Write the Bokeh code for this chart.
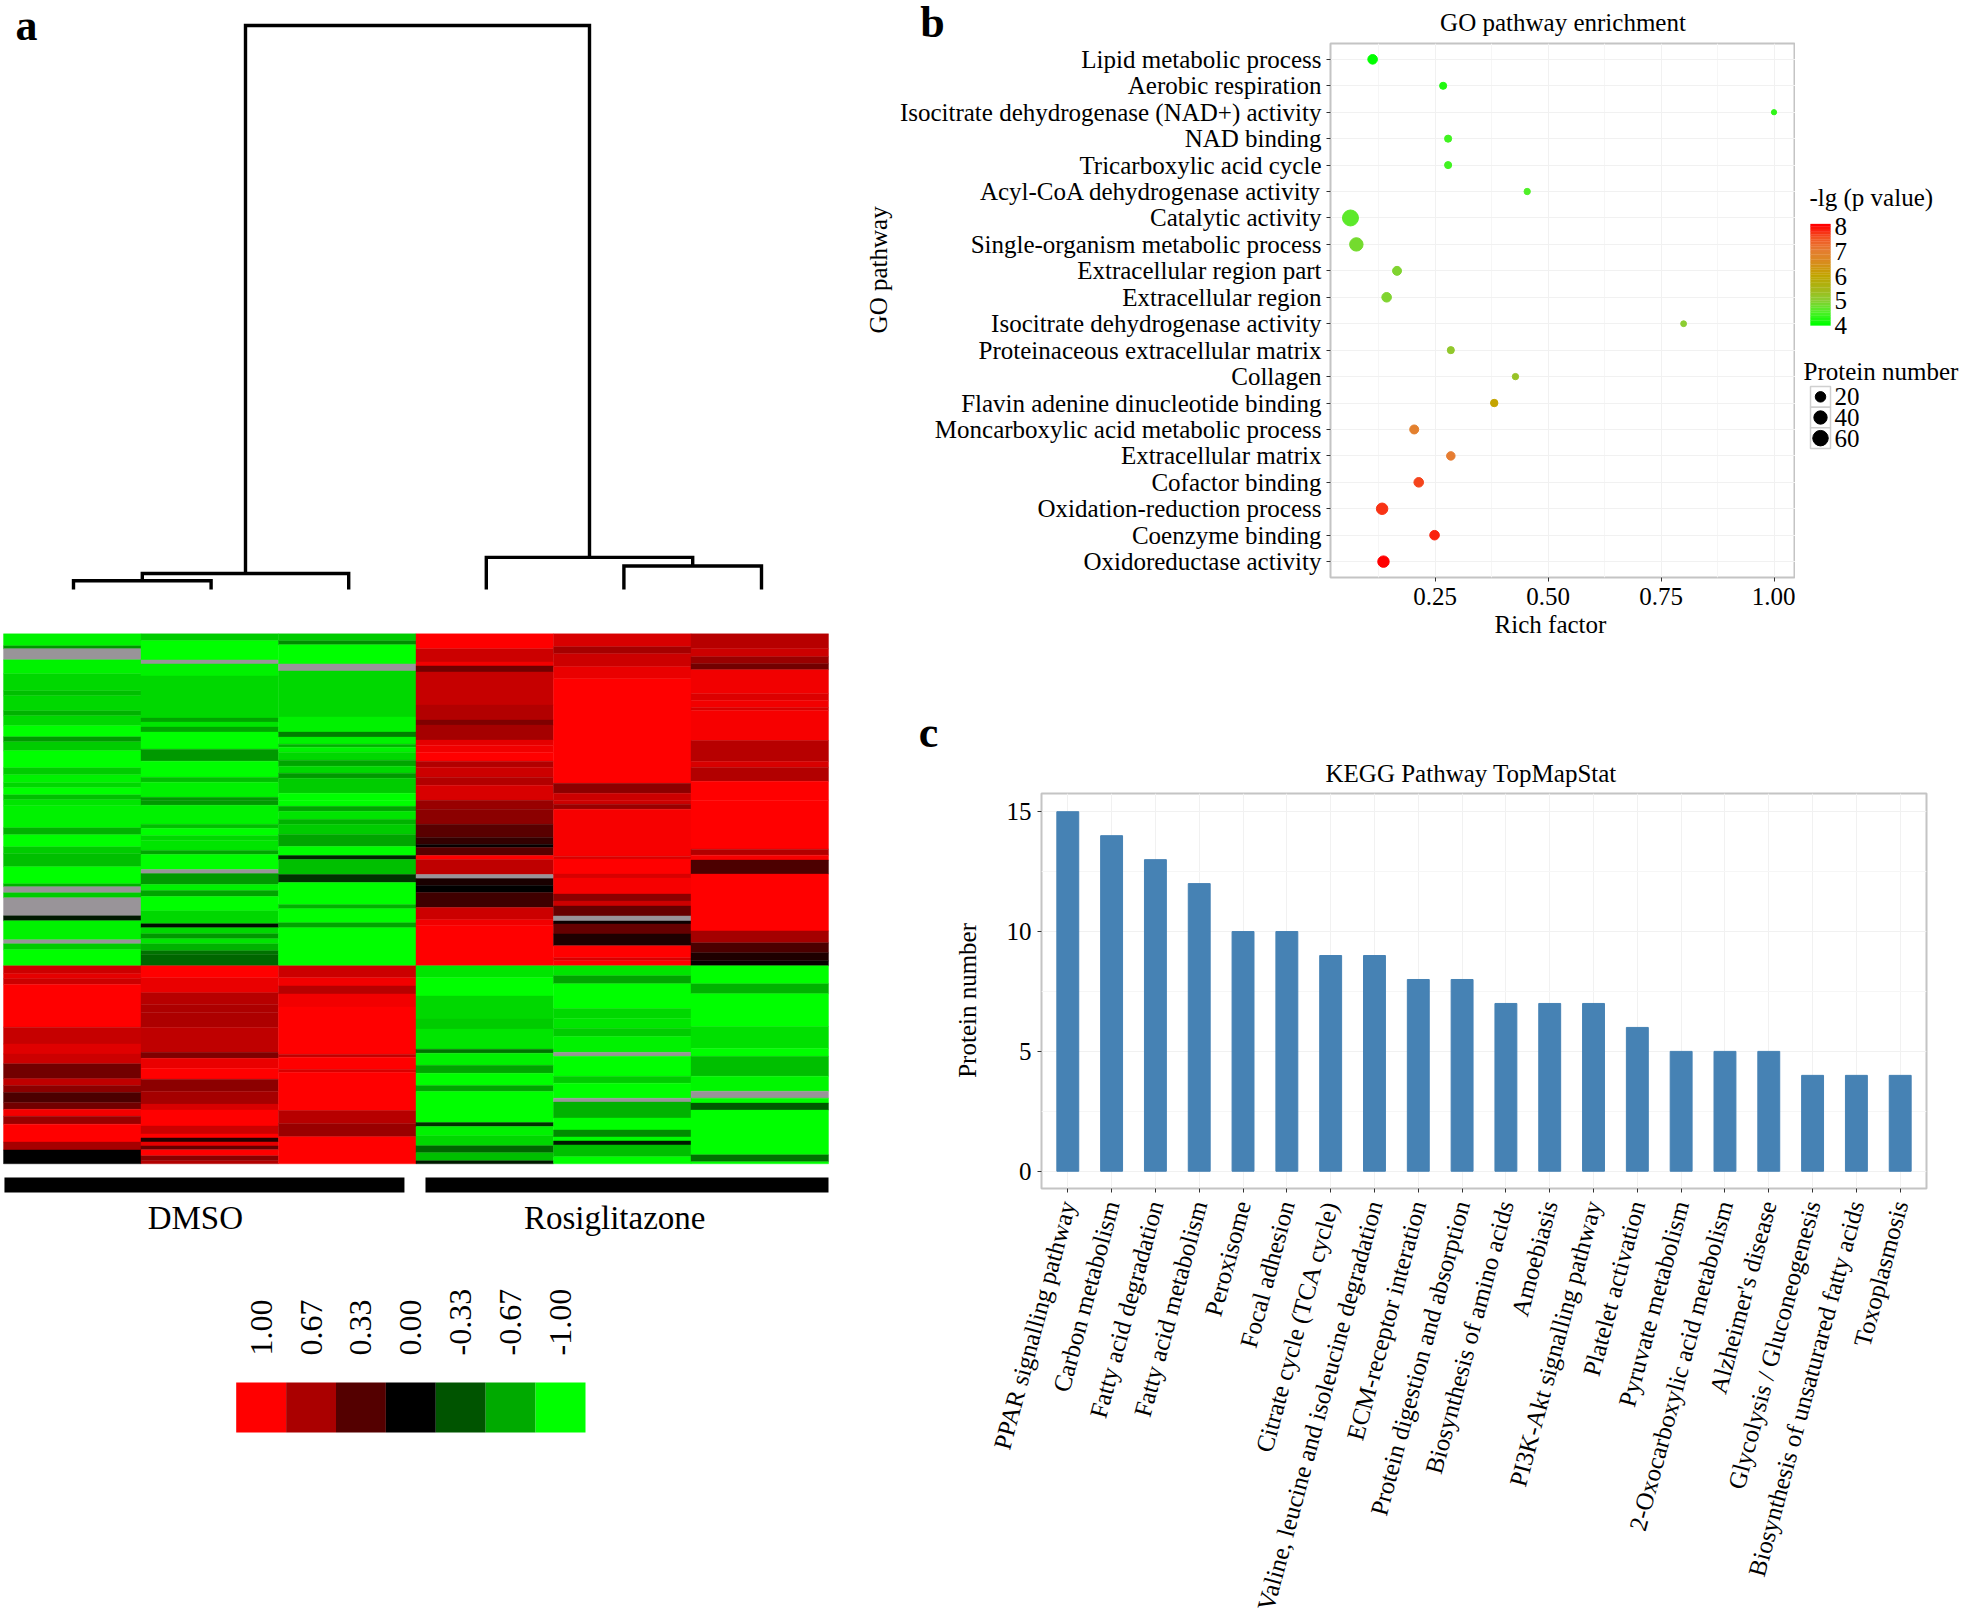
from bokeh.embed import file_html
from bokeh.resources import INLINE
from bokeh.plotting import figure
from bokeh.layouts import row, column
from bokeh.models import (Range1d, FactorRange, FixedTicker, Label, ColumnDataSource, Title)
from bokeh.core.properties import value

SERIF = "Liberation Serif"
NBSP = "\u00a0"

# ---------- panel a: heat map values, (band height, log ratio); None = missing ----------
col1_up = [(12,-.95),(3,-.6),(11,None),(14,-.95),(17,-.85),(5,-.75),(15,-.85),(5,-.7),(10,-.85),(11,-1),(5,-.6),(9,-.8),(17,-1),(7,-.8),(8,-.95),(5,-.85),(7,-1),(5,-.75),
           (6,-.9),(22,-.95),(7,-.7),(12,-1),(7,-.8),(13,-.75),(17,-1),(3,-.7),(6,None),(5,-.8),(18,None),(5,-.1),(19,-.95),(4,None),(6,-.8),(16,-1)]
col2_up = [(7,-.8),(19,-1),(4,None),(12,-.95),(42,-.85),(4,-.65),(5,-.9),(5,-.65),(17,-1),(12,-.6),(16,-1),(5,-.75),(15,-.95),(3,-.6),
           (5,-.6),(19,-.95),(4,-.75),(7,-1),(5,-.85),(10,-.9),(4,-.65),(15,-1),(4,None),(11,-.6),(6,-.95),(6,-.65),(14,-1),(13,-.85),(4,-.05),(6,-.85),(5,-.6),(5,-.9),(7,-.7),(4,-.45),(11,-.4)]
col3_up = [(7,-.8),(4,-.55),(19,-1),(7,None),(46,-.85),(15,-.95),(5,-.5),(7,-.95),(3,-.7),(5,-.95),(8,-.85),(6,-.65),(7,-.85),(5,-.6),(15,-.8),(7,-1),
           (6,-1),(5,-.65),(8,-.9),(5,-.7),(10,-.8),(12,-.65),(9,-1),(4,-.15),(15,-.75),(8,-.2),(22,-1),(4,-.7),(14,-1),(5,-.65),(38,-1)]
col4_up = [(15,1),(13,.8),(4,.95),(6,.45),(33,.78),(15,.7),(5,.5),(15,.65),(5,.9),(7,.95),(9,1),(6,.7),(10,.8),(8,.7),(15,.85),
           (9,.6),(15,.55),(13,.35),(7,.2),(3,.02),(8,.35),(4,1),(15,.75),(4,None),(7,.1),(7,0),(15,.25),(12,.8),(6,.95),(40,1)]
col5_up = [(13,.85),(7,.65),(13,.8),(12,.92),(105,1),(10,.55),(7,.8),
           (4,.8),(5,.6),(47,.97),(3,.85),(15,1),(4,.85),(16,.97),(7,.55),(5,.8),(10,.4),(5,None),(3,.05),(10,.4),(12,.12),(12,1),(3,.85),(5,1)]
col6_up = [(15,.72),(8,.8),(7,.6),(6,.45),(24,.95),(7,.87),(7,.95),(3,.85),(30,.97),(21,.72),(6,.85),(14,.7),(19,1),
           (49,1),(6,.7),(5,.97),(14,.3),(57,1),(12,.65),(10,.3),(8,.12),(5,.03)]
col1_lo = [(8,.8),(5,.9),(6,.8),(43,1),(17,.78),(10,.88),(10,.8),(15,.45),(7,.75),(7,.55),(10,.3),(7,.45),(7,.95),(8,.6),(18,1),(8,.65),(14,0)]
col2_lo = [(12,1),(15,.92),(12,.72),(8,.68),(15,.68),(25,.75),(6,.5),(10,.92),(11,1),(12,.55),(13,.65),(6,.85),(16,1),(8,.8),(4,1),(4,.15),(4,.9),(4,.4),(6,1),(5,.55),(3,.7)]
col3_lo = [(12,.8),(8,.95),(8,.72),(13,.95),(47,1),(3,.75),(12,1),(3,.85),(38,1),(13,.72),(13,.6),(27,1)]
col4_lo = [(12,-.9),(18,-1),(23,-.85),(10,-.8),(20,-.9),(4,-.45),(12,-.95),(8,-.65),(12,-1),(6,-.65),(31,-1),(4,-.2),(9,-.95),(10,-.85),(7,-.4),(8,-.75),(3,-.1)]
col5_lo = [(10,-.9),(8,-.65),(25,-1),(10,-.85),(10,-.9),(8,-.8),(16,-.95),(4,None),(20,-1),(7,-.8),(15,-1),(4,None),(16,-.7),(12,-1),(7,-.55),(4,-1),(4,-.1),(12,-.75),(7,-1)]
col6_lo = [(18,-1),(10,-.7),(33,-1),(22,-.88),(8,-1),(20,-.75),(15,-.97),(7,None),(5,-1),(7,-.35),(45,-1),(7,-.45),(2,-1)]
heat_up = [col1_up, col2_up, col3_up, col4_up, col5_up, col6_up]
heat_lo = [col1_lo, col2_lo, col3_lo, col4_lo, col5_lo, col6_lo]
UP_ROWS, LO_ROWS = 332, 198

samples = ["s1", "s2", "s3", "s4", "s5", "s6"]
merge_a = ["s1", "n1", "s5", "s4", "n2"]
merge_b = ["s2", "s3", "s6", "n3", "n4"]
merge_h = [0.0155, 0.0285, 0.0416, 0.057, 1.0]

group_names = ["DMSO", "Rosiglitazone"]
key_values = [1.0, 0.67, 0.33, 0.0, -0.33, -0.67, -1.0]
key_labels = ["1.00", "0.67", "0.33", "0.00", "-0.33", "-0.67", "-1.00"]

# ---------- panel b ----------
go_terms = ["Lipid metabolic process","Aerobic respiration","Isocitrate dehydrogenase (NAD+) activity","NAD binding",
            "Tricarboxylic acid cycle","Acyl-CoA dehydrogenase activity","Catalytic activity","Single-organism metabolic process",
            "Extracellular region part","Extracellular region","Isocitrate dehydrogenase activity","Proteinaceous extracellular matrix",
            "Collagen","Flavin adenine dinucleotide binding","Moncarboxylic acid metabolic process","Extracellular matrix",
            "Cofactor binding","Oxidation-reduction process","Coenzyme binding","Oxidoreductase activity"]
go_rich = [.112,.268,1.0,.279,.279,.454,.063,.076,.166,.143,.80,.285,.428,.381,.204,.285,.214,.133,.249,.136]
go_count = [15,5,1,5,5,3,65,41,12,15,2,5,3,6,12,10,15,26,15,26]
go_lgp = [4.0,4.2,4.3,4.4,4.4,4.5,4.6,4.8,4.9,4.9,5.0,5.1,5.2,6.0,6.9,7.0,7.6,7.7,7.8,8.0]
lgp_stops = [(4,(0,255,0)),(4.5,(80,240,40)),(5,(140,205,50)),(5.5,(170,180,20)),(6,(196,164,0)),(6.5,(216,140,30)),(7,(230,125,50)),(7.5,(243,85,35)),(8,(255,0,0))]
lgp_ticks = [4, 5, 6, 7, 8]
size_ticks = [20, 40, 60]

# ---------- panel c ----------
kegg_names = ["PPAR signalling pathway","Carbon metabolism","Fatty acid degradation","Fatty acid metabolism","Peroxisome","Focal adhesion",
              "Citrate cycle (TCA cycle)","Valine, leucine and isoleucine degradation","ECM-receptor interation","Protein digestion and absorption",
              "Biosynthesis of amino acids","Amoebiasis","PI3K-Akt signalling pathway","Platelet activation","Pyruvate metabolism",
              "2-Oxocarboxylic acid metabolism","Alzheimer's disease","Glycolysis / Gluconeogenesis","Biosynthesis of unsaturared fatty acids","Toxoplasmosis"]
kegg_counts = [15,14,13,12,10,10,9,9,8,8,7,7,7,6,5,5,5,4,4,4]


def lin_range(px_a, val_a, px_b, val_b, size):
    k = (val_b - val_a) / (px_b - px_a)
    return Range1d(start=val_a - px_a * k, end=val_a + (size - px_a) * k)


def lin_yrange(px_a, val_a, px_b, val_b, size):
    # pixels run downwards, a Range1d's start is at the bottom of the frame
    k = (val_b - val_a) / (px_b - px_a)
    return Range1d(start=val_a + (size - px_a) * k, end=val_a - px_a * k)


def heat_color(v):
    if v is None:
        return "#999499"
    return "#%02x%02x%02x" % (int(255 * max(v, 0)), int(255 * max(-v, 0)), 0)


def lgp_color(v):
    for (a, ca), (b, cb) in zip(lgp_stops, lgp_stops[1:]):
        if v <= b:
            t = (v - a) / (b - a)
            return "#%02x%02x%02x" % tuple(int(round(x + (y - x) * t)) for x, y in zip(ca, cb))
    return "#ff0000"


def dot_size(n):
    return 3.7 + 1.52 * n ** 0.5


def canvas_label(p, x, y, text, size, side=None, **kw):
    lab = Label(x=x, y=y, x_units="canvas", y_units="canvas", text=text,
                text_font=SERIF, text_font_size=f"{size}px", text_color="black",
                text_baseline="middle", **kw)
    if side:
        p.add_layout(lab, side)
    else:
        p.add_layout(lab)


# ---------- panel a figure ----------
A_W, TOT_H = 860, 1614
pa = figure(width=A_W, height=TOT_H, output_backend="svg", toolbar_location=None,
            x_axis_location=None, y_axis_location=None, min_border=0, frame_align=False,
            x_range=lin_range(3, 0, 828, 6, A_W), y_range=lin_yrange(633.3, 0, 1163.3, 530, TOT_H))
pa.outline_line_color = None
pa.grid.visible = False
pa.extra_y_ranges["dendro"] = lin_yrange(589, 0, 25, 1, TOT_H)
pa.extra_x_ranges["dendro_x"] = lin_range(73, 0.5, 761, 5.5, A_W)
pa.extra_x_ranges["key_x"] = lin_range(235.7, 0, 585, 7, A_W)
pa.extra_y_ranges["key_y"] = lin_yrange(1432, 0, 1382, 1, TOT_H)

L, R, T, B, C = [], [], [], [], []
for block, start, total in ((heat_up, 0, UP_ROWS), (heat_lo, UP_ROWS, LO_ROWS)):
    for c, runs in enumerate(block):
        k = total / sum(h for h, _ in runs)
        y = start
        for h, v in runs:
            L.append(c); R.append(c + 1); T.append(y); B.append(y + h * k); C.append(heat_color(v))
            y += h * k
pa.quad(left=L, right=R, top=T, bottom=B, fill_color=C, line_color=C, line_width=0.4)

pos = {s: (i + 0.5, 0.0) for i, s in enumerate(samples)}
dx, dy = [], []
for i, (a, b, h) in enumerate(zip(merge_a, merge_b, merge_h)):
    xa, ha = pos[a]
    xb, hb = pos[b]
    dx.append([xa, xa, xb, xb]); dy.append([ha, h, h, hb])
    pos[f"n{i+1}"] = ((xa + xb) / 2, h)
pa.multi_line(dx, dy, line_color="black", line_width=3.4, line_join="miter", line_cap="butt",
              x_range_name="dendro_x", y_range_name="dendro")

# group bars under the heat map, as column spans
pa.quad(left=[0.007, 3.069], right=[2.916, 6.0], top=[543.7, 543.7], bottom=[558.7, 558.7], fill_color="black", line_color=None)
pa.text(x=[1.395, 4.445], y=[584, 584], text=group_names, text_font=value(SERIF), text_font_size="33px",
        text_align="center", text_baseline="middle", text_color="black")

key_idx = list(range(len(key_values)))
pa.quad(left=key_idx, right=[i + 1 for i in key_idx], bottom=[0] * 7, top=[1] * 7,
        fill_color=[heat_color(v) for v in key_values], line_color=None, x_range_name="key_x", y_range_name="key_y")
pa.text(x=[i + 0.5 for i in key_idx], y=[1.54] * 7, text=key_labels, angle=1.5708, text_font=value(SERIF), text_font_size="32px",
        text_align="left", text_baseline="middle", text_color="black", x_range_name="key_x", y_range_name="key_y")
canvas_label(pa, 26, 25, "a", 44, text_font_style="bold", text_align="center")

# ---------- panel b figure ----------
# The letter labels sit in the side panel above each frame, which gives both figures a
# tall upper border; panel b is lifted by a negative margin so that its frame stays in place.
ROW_H, TOP_BORDER = 693, 105
B_LIFT = TOP_BORDER - 43
B_X = A_W
B_W = 1795 - B_X
pb = figure(width=B_W, height=B_LIFT + ROW_H, output_backend="svg", toolbar_location=None, frame_align=False,
            x_range=lin_range(1434.5 - 1330, 0.25, 1773.5 - 1330, 1.0, 465),
            y_range=FactorRange(factors=go_terms[::-1], range_padding=0.01, range_padding_units="percent"),
            min_border_left=1330 - B_X, min_border_right=0, min_border_top=TOP_BORDER, min_border_bottom=ROW_H - 577,
            margin=(-B_LIFT, 0, 0, 0))
pb.add_layout(Title(text="GO pathway enrichment", align="center", text_font=SERIF, text_font_size="25px",
                    text_font_style="normal", text_color="black", standoff=15), "above")
src = ColumnDataSource(dict(x=go_rich, y=go_terms, s=[dot_size(n) for n in go_count], c=[lgp_color(v) for v in go_lgp]))
pb.scatter("x", "y", size="s", fill_color="c", line_color="c", source=src)


def style_axes(p, xlab, ylab):
    p.outline_line_color = "#c4c4c4"
    p.outline_line_width = 2
    for ax in (p.xaxis[0], p.yaxis[0]):
        ax.axis_line_color = None
        ax.major_tick_line_color = "#333333"
        ax.major_tick_in = 0
        ax.major_tick_out = 4
        ax.minor_tick_line_color = None
        ax.major_label_text_font = SERIF
        ax.major_label_text_font_size = "25px"
        ax.major_label_text_color = "black"
        ax.axis_label_text_font = SERIF
        ax.axis_label_text_font_size = "25px"
        ax.axis_label_text_font_style = "normal"
        ax.axis_label_text_color = "black"
    p.xaxis[0].axis_label = xlab
    p.yaxis[0].axis_label = ylab


# no-break spaces shift the axis titles off the frame's centre, as in the reference
style_axes(pb, "Rich factor" + NBSP * 4, NBSP * 13 + "GO pathway")
pb.xaxis[0].ticker = FixedTicker(ticks=[.25, .5, .75, 1.0], minor_ticks=[.125, .375, .625, .875])
pb.xaxis[0].major_label_overrides = {.25: "0.25", .5: "0.50", .75: "0.75", 1.0: "1.00"}
pb.xaxis[0].major_label_standoff = 6
pb.xaxis[0].axis_label_standoff = 3
pb.yaxis[0].major_label_standoff = 5
pb.yaxis[0].axis_label_standoff = 5
pb.xgrid.grid_line_color = "#f1f1f1"
pb.ygrid.grid_line_color = "#f1f1f1"
pb.xgrid.minor_grid_line_color = "#f6f6f6"
canvas_label(pb, 932 - B_X, 22 + B_LIFT, "b", 44, side="above", text_font_style="bold", text_align="center")

# ---------- legend figure for panel b ----------
LX, LW = 1795, 166
pl = figure(width=LW, height=ROW_H, output_backend="svg", toolbar_location=None,
            x_axis_location=None, y_axis_location=None, min_border=0, frame_align=False,
            x_range=Range1d(LX, LX + LW), y_range=lin_yrange(325, 4, 226, 8, ROW_H))
pl.outline_line_color = None
pl.grid.visible = False
pl.extra_y_ranges["size_rows"] = lin_yrange(386, 0, 448, 3, ROW_H)
n = 40
grad = [4 + 4.1 * i / n for i in range(n + 1)]
pl.quad(left=1810, right=1830, bottom=grad[:-1], top=grad[1:], fill_color=[lgp_color(v) for v in grad[:-1]],
        line_color=[lgp_color(v) for v in grad[:-1]], line_width=0.3)
pl.text(x=[1834] * 5, y=lgp_ticks, text=[str(t) for t in lgp_ticks], text_font=value(SERIF), text_font_size="25px",
        text_baseline="middle", text_color="black")
rows_i = list(range(len(size_ticks)))
pl.quad(left=1810, right=1830, top=rows_i, bottom=[i + 1 for i in rows_i], fill_color="white", line_color="#d0d0d0",
        line_width=1.5, y_range_name="size_rows")
pl.scatter(x=[1820] * 3, y=[i + 0.5 for i in rows_i], size=[dot_size(v) for v in size_ticks], color="black", y_range_name="size_rows")
pl.text(x=[1834] * 3, y=[i + 0.5 for i in rows_i], text=[str(v) for v in size_ticks], text_font=value(SERIF), text_font_size="25px",
        text_baseline="middle", text_color="black", y_range_name="size_rows")
canvas_label(pl, 1809 - LX, 197, "-lg (p value)", 25)
canvas_label(pl, 1803 - LX, 371, "Protein number", 25)

# ---------- panel c figure ----------
pc_top = 793
C_LIFT = TOP_BORDER - (pc_top - ROW_H)
C_SPARE = 40  # room below the page's end for the axis' own estimate of its rotated labels
C_W, C_H = 1961 - A_W, TOT_H - ROW_H + C_LIFT + C_SPARE
pc = figure(width=C_W, height=C_H, output_backend="svg", toolbar_location=None, frame_align=False,
            x_range=FactorRange(factors=kegg_names, range_padding=0.01, range_padding_units="percent"),
            y_range=Range1d(-0.72, 15.76),
            min_border_left=1041 - A_W, min_border_right=1961 - 1926, min_border_top=TOP_BORDER,
            min_border_bottom=TOT_H - 1188 + C_SPARE,
            margin=(-C_LIFT, 0, -C_SPARE, 0))
pc.add_layout(Title(text="KEGG Pathway TopMapStat", align="left", offset=284, text_font=SERIF, text_font_size="25px",
                    text_font_style="normal", text_color="black", standoff=14), "above")
pc.vbar(x=kegg_names, top=kegg_counts, bottom=0, width=0.5, fill_color="#4682B4", line_color="#4682B4")
style_axes(pc, None, "Protein number" + NBSP * 3)
pc.xaxis[0].major_label_orientation = 1.309
pc.xaxis[0].major_label_standoff = 9
pc.yaxis[0].ticker = FixedTicker(ticks=[0, 5, 10, 15], minor_ticks=[2.5, 7.5, 12.5])
pc.yaxis[0].major_label_standoff = 6
pc.yaxis[0].axis_label_standoff = 23
pc.xgrid.grid_line_color = "#f1f1f1"
pc.ygrid.grid_line_color = "#f1f1f1"
pc.ygrid.minor_grid_line_color = "#f6f6f6"
canvas_label(pc, 928 - A_W, 732 - (pc_top - TOP_BORDER), "c", 44, side="above", text_font_style="bold", text_align="center")

layout = row(pa, column(row(pb, pl), pc))
open("out.html", "w").write(file_html(layout, INLINE))
